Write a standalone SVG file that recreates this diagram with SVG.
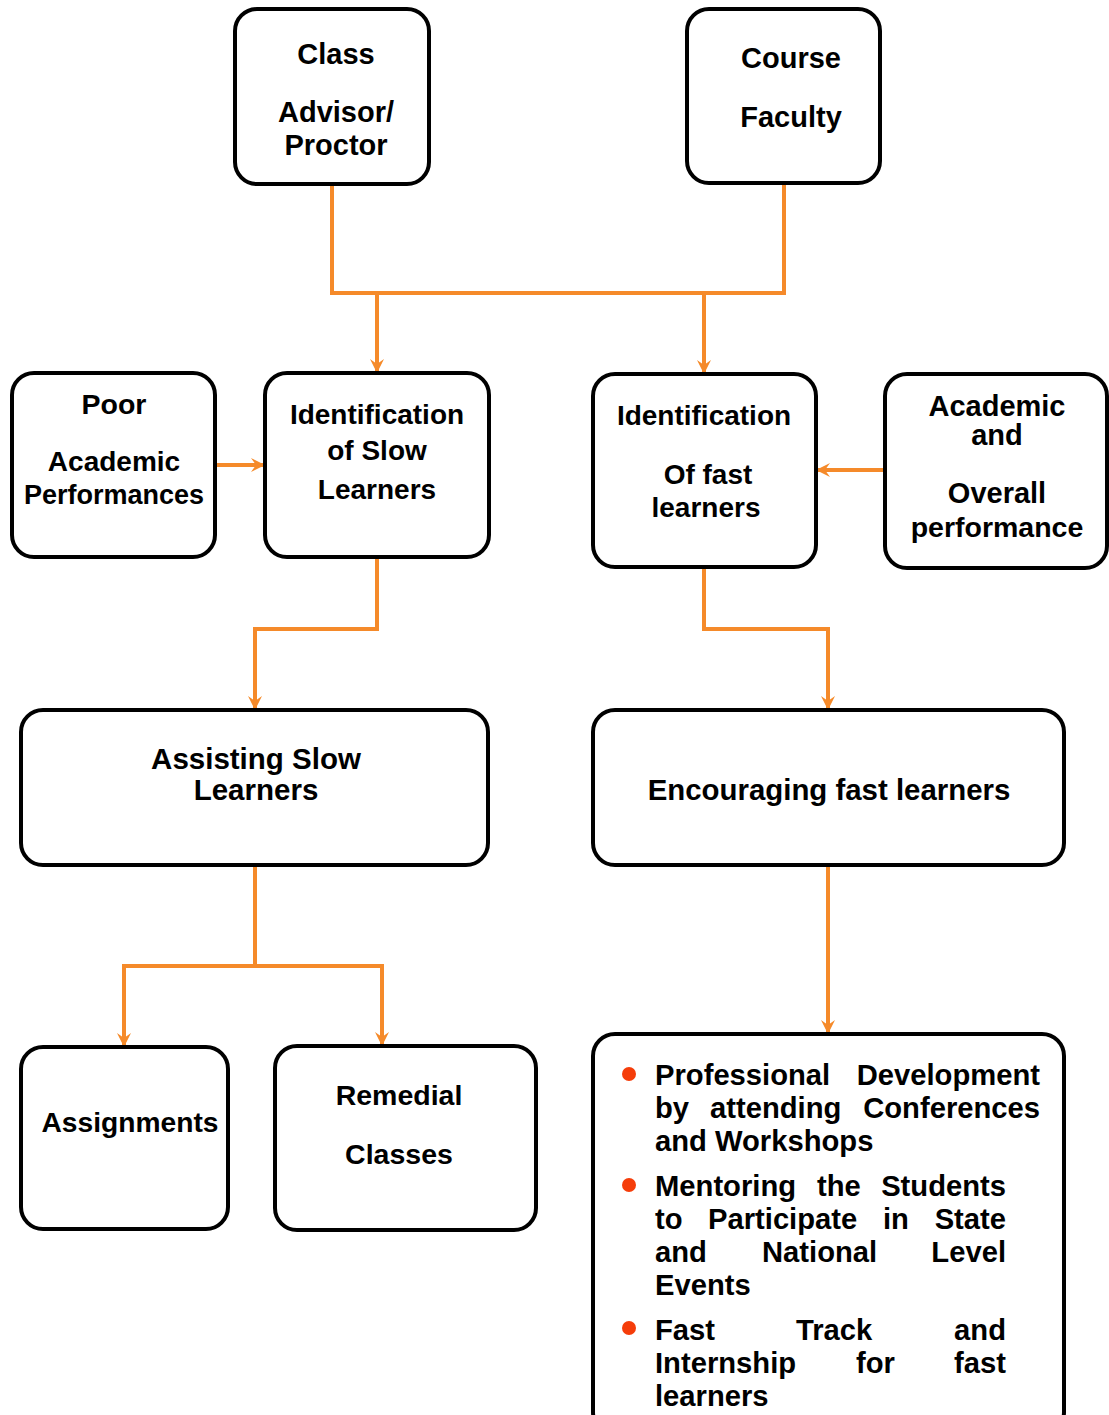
<svg xmlns="http://www.w3.org/2000/svg" width="1109" height="1415" viewBox="0 0 1109 1415">
<style>
.box{fill:#fff;stroke:#000;stroke-width:4}
text{font-family:"Liberation Sans",Arial,sans-serif;font-weight:bold;fill:#000;font-size:27.5px}
.c{text-anchor:middle}
.b{font-size:29.2px}
.e{text-anchor:end}
.con{fill:none;stroke:#F58A2A;stroke-width:4}
.dot{fill:#F53D0A}
</style>
<defs>
<marker id="ah" viewBox="0 0 14 14" refX="13" refY="7" markerWidth="14" markerHeight="14" markerUnits="userSpaceOnUse" orient="auto">
<path d="M0,0 L14,7 L0,14 L5,7 z" fill="#F58A2A"/>
</marker>
</defs>
<rect width="1109" height="1415" fill="#fff"/>
<g id="connectors">
<path class="con" d="M332,184 V293 H784 V183"/>
<path class="con" d="M377,293 V372" marker-end="url(#ah)"/>
<path class="con" d="M704,293 V373" marker-end="url(#ah)"/>
<path class="con" d="M215,465 H264" marker-end="url(#ah)"/>
<path class="con" d="M885,470 H817" marker-end="url(#ah)"/>
<path class="con" d="M377,557 V629 H255 V709" marker-end="url(#ah)"/>
<path class="con" d="M704,567 V629 H828 V709" marker-end="url(#ah)"/>
<path class="con" d="M255,865 V966 H124 V1046" marker-end="url(#ah)"/>
<path class="con" d="M255,966 H382 V1045" marker-end="url(#ah)"/>
<path class="con" d="M828,865 V1033" marker-end="url(#ah)"/>
</g>
<g id="class-advisor">
<rect class="box" x="235" y="9" width="194" height="175" rx="22"/>
<text class="c" x="336" y="64" style="font-size:29px">Class</text>
<text class="c" x="336" y="122" style="font-size:29px">Advisor/</text>
<text class="c" x="336" y="155" style="font-size:29px">Proctor</text>
</g>
<g id="course-faculty">
<rect class="box" x="687" y="9" width="193" height="174" rx="22"/>
<text class="c" x="791" y="68" style="font-size:29px">Course</text>
<text class="c" x="791" y="127" style="font-size:29px">Faculty</text>
</g>
<g id="poor">
<rect class="box" x="12" y="373" width="203" height="184" rx="22"/>
<text class="c" x="114" y="414" style="font-size:28.5px">Poor</text>
<text class="c" x="114" y="471" style="font-size:28px">Academic</text>
<text class="c" x="114" y="504" style="font-size:27px">Performances</text>
</g>
<g id="ident-slow">
<rect class="box" x="265" y="373" width="224" height="184" rx="22"/>
<text class="c" x="377" y="424" style="font-size:28px">Identification</text>
<text class="c" x="377" y="460" style="font-size:28px">of Slow</text>
<text class="c" x="377" y="499" style="font-size:28px">Learners</text>
</g>
<g id="ident-fast">
<rect class="box" x="593" y="374" width="223" height="193" rx="22"/>
<text class="c" x="704" y="425" style="font-size:28px">Identification</text>
<text class="c" x="708" y="484" style="font-size:28px">Of fast</text>
<text class="c" x="706" y="517" style="font-size:28px">learners</text>
</g>
<g id="academic-overall">
<rect class="box" x="885" y="374" width="222" height="194" rx="22"/>
<text class="c" x="997" y="416" style="font-size:29px">Academic</text>
<text class="c" x="997" y="445" style="font-size:29px">and</text>
<text class="c" x="997" y="503" style="font-size:29px">Overall</text>
<text class="c" x="997" y="537" style="font-size:28.5px">performance</text>
</g>
<g id="assisting">
<rect class="box" x="21" y="710" width="467" height="155" rx="22"/>
<text class="c" x="256" y="769" style="font-size:29.5px">Assisting Slow</text>
<text class="c" x="256" y="800" style="font-size:29.5px">Learners</text>
</g>
<g id="encouraging">
<rect class="box" x="593" y="710" width="471" height="155" rx="22"/>
<text class="c" x="829" y="800" style="font-size:29.4px">Encouraging fast learners</text>
</g>
<g id="assignments">
<rect class="box" x="21" y="1047" width="207" height="182" rx="22"/>
<text class="c" x="130" y="1132" style="font-size:28.2px">Assignments</text>
</g>
<g id="remedial">
<rect class="box" x="275" y="1046" width="261" height="184" rx="22"/>
<text class="c" x="399" y="1105" style="font-size:28.5px">Remedial</text>
<text class="c" x="399" y="1164" style="font-size:28.5px">Classes</text>
</g>
<g id="fast-activities">
<rect class="box" x="593" y="1034" width="471" height="400" rx="22"/>
<circle class="dot" cx="629" cy="1074" r="7"/>
<circle class="dot" cx="629" cy="1185" r="7"/>
<circle class="dot" cx="629" cy="1328" r="7"/>
<text class="b" x="655" y="1085">Professional</text>
<text class="b e" x="1040" y="1085">Development</text>
<text class="b" x="655" y="1118">by</text>
<text class="b" x="710" y="1118">attending</text>
<text class="b e" x="1040" y="1118">Conferences</text>
<text class="b" x="655" y="1151">and Workshops</text>
<text class="b" x="655" y="1196">Mentoring</text>
<text class="b" x="817" y="1196">the</text>
<text class="b e" x="1006" y="1196">Students</text>
<text class="b" x="655" y="1229">to</text>
<text class="b" x="708" y="1229">Participate</text>
<text class="b" x="883" y="1229">in</text>
<text class="b e" x="1006" y="1229">State</text>
<text class="b" x="655" y="1262">and</text>
<text class="b" x="762" y="1262">National</text>
<text class="b e" x="1006" y="1262">Level</text>
<text class="b" x="655" y="1295">Events</text>
<text class="b" x="655" y="1340">Fast</text>
<text class="b" x="796" y="1340">Track</text>
<text class="b e" x="1006" y="1340">and</text>
<text class="b" x="655" y="1373">Internship</text>
<text class="b" x="856" y="1373">for</text>
<text class="b e" x="1006" y="1373">fast</text>
<text class="b" x="655" y="1406">learners</text>
</g>
</svg>
